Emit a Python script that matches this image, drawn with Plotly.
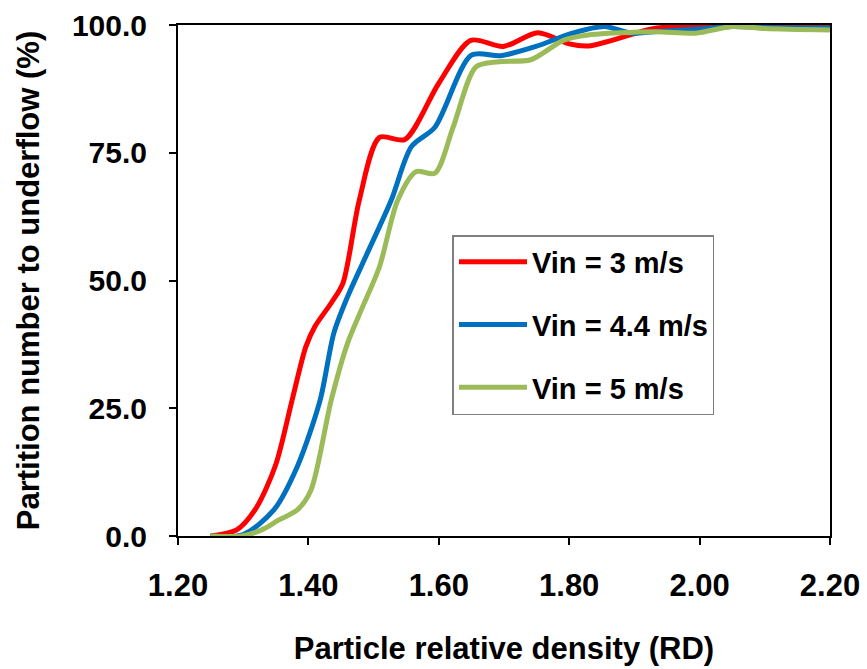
import plotly.graph_objects as go

# Particle relative density (RD) and partition number (%) per inlet velocity
rd_v3 = [1.25, 1.29, 1.32, 1.35, 1.375, 1.396, 1.41, 1.435, 1.453, 1.478, 1.509, 1.548,
         1.60, 1.649, 1.699, 1.752, 1.80, 1.83, 1.93, 2.00, 2.05, 2.10, 2.20]
pn_v3 = [0.0, 1.2, 5.5, 14.0, 26.6, 37.0, 41.0, 45.6, 49.5, 65.7, 78.0, 77.6,
         88.6, 97.0, 95.8, 98.5, 96.3, 95.9, 99.3, 100.0, 100.0, 99.8, 99.7]

rd_v44 = [1.25, 1.30, 1.347, 1.383, 1.418, 1.439, 1.46, 1.488, 1.527, 1.558, 1.594, 1.65,
          1.695, 1.749, 1.805, 1.854, 1.896, 1.93, 2.00, 2.05, 2.10, 2.20]
pn_v44 = [0.0, 0.3, 5.1, 13.6, 26.6, 39.7, 46.8, 54.7, 65.7, 76.2, 80.0, 94.1,
          94.0, 95.8, 98.4, 99.7, 98.4, 98.7, 99.2, 99.7, 99.5, 99.4]

rd_v5 = [1.25, 1.298, 1.33, 1.354, 1.383, 1.404, 1.435, 1.46, 1.481, 1.509, 1.537, 1.565,
         1.594, 1.622, 1.657, 1.692, 1.741, 1.791, 1.826, 1.93, 1.994, 2.05, 2.10, 2.20]
pn_v5 = [0.0, 0.0, 1.3, 3.1, 5.1, 9.0, 26.6, 37.7, 44.2, 52.7, 65.7, 71.3,
         71.0, 80.0, 91.8, 92.8, 93.2, 97.0, 98.0, 98.7, 98.4, 99.7, 99.3, 99.0]

series_names = ["Vin = 3 m/s", "Vin = 4.4 m/s", "Vin = 5 m/s"]
series_colors = ["#FF0000", "#0070C0", "#9BBB59"]

x_ticks = [1.20, 1.40, 1.60, 1.80, 2.00, 2.20]
y_ticks = [0, 25, 50, 75, 100]

FONT = "Liberation Sans, Arial, sans-serif"

fig = go.Figure()
for i, (xs, ys) in enumerate([(rd_v3, pn_v3), (rd_v44, pn_v44), (rd_v5, pn_v5)]):
    fig.add_trace(go.Scatter(
        x=xs, y=ys, mode="lines", name=series_names[i],
        legendgroup=f"g{i}",
        line=dict(color=series_colors[i], width=5, shape="spline", smoothing=0.8),
    ))

fig.update_layout(
    width=867, height=669,
    margin=dict(l=178, r=37, t=25, b=133),
    paper_bgcolor="white", plot_bgcolor="white",
    font=dict(family=FONT, color="black"),
    showlegend=True,
    legend=dict(
        x=0.421, y=0.589, xanchor="left", yanchor="top",
        bgcolor="white", bordercolor="#7F7F7F", borderwidth=1.5,
        font=dict(family=FONT, size=29, color="black", weight="bold"),
        traceorder="grouped", tracegroupgap=22,
        entrywidth=284, entrywidthmode="pixels",
        itemwidth=68,
    ),
)

fig.update_xaxes(
    range=[1.2, 2.2], tickvals=x_ticks, ticktext=[f"{v:.2f}" for v in x_ticks],
    showgrid=False, zeroline=False, automargin=False,
    showline=True, mirror=True, linecolor="black", linewidth=2,
    ticks="outside", ticklen=7, tickcolor="black", tickwidth=1.5,
    tickfont=dict(family=FONT, size=31, color="black", weight="bold"),
    ticklabelstandoff=14,
    title=dict(text="Particle relative density (RD)",
               font=dict(family=FONT, size=31, color="black", weight="bold"),
               standoff=35),
)
fig.update_yaxes(
    range=[0, 100], tickvals=y_ticks, ticktext=[f"{v:.1f}" for v in y_ticks],
    showgrid=False, zeroline=False, automargin=False,
    showline=True, mirror=True, linecolor="black", linewidth=2,
    ticks="outside", ticklen=7, tickcolor="black", tickwidth=1.5,
    tickfont=dict(family=FONT, size=30, color="black", weight="bold"),
    ticklabelstandoff=16,
    title=dict(text="Partition number to underflow (%)",
               font=dict(family=FONT, size=31, color="black", weight="bold"),
               standoff=23),
)

fig.write_html("out.html")
